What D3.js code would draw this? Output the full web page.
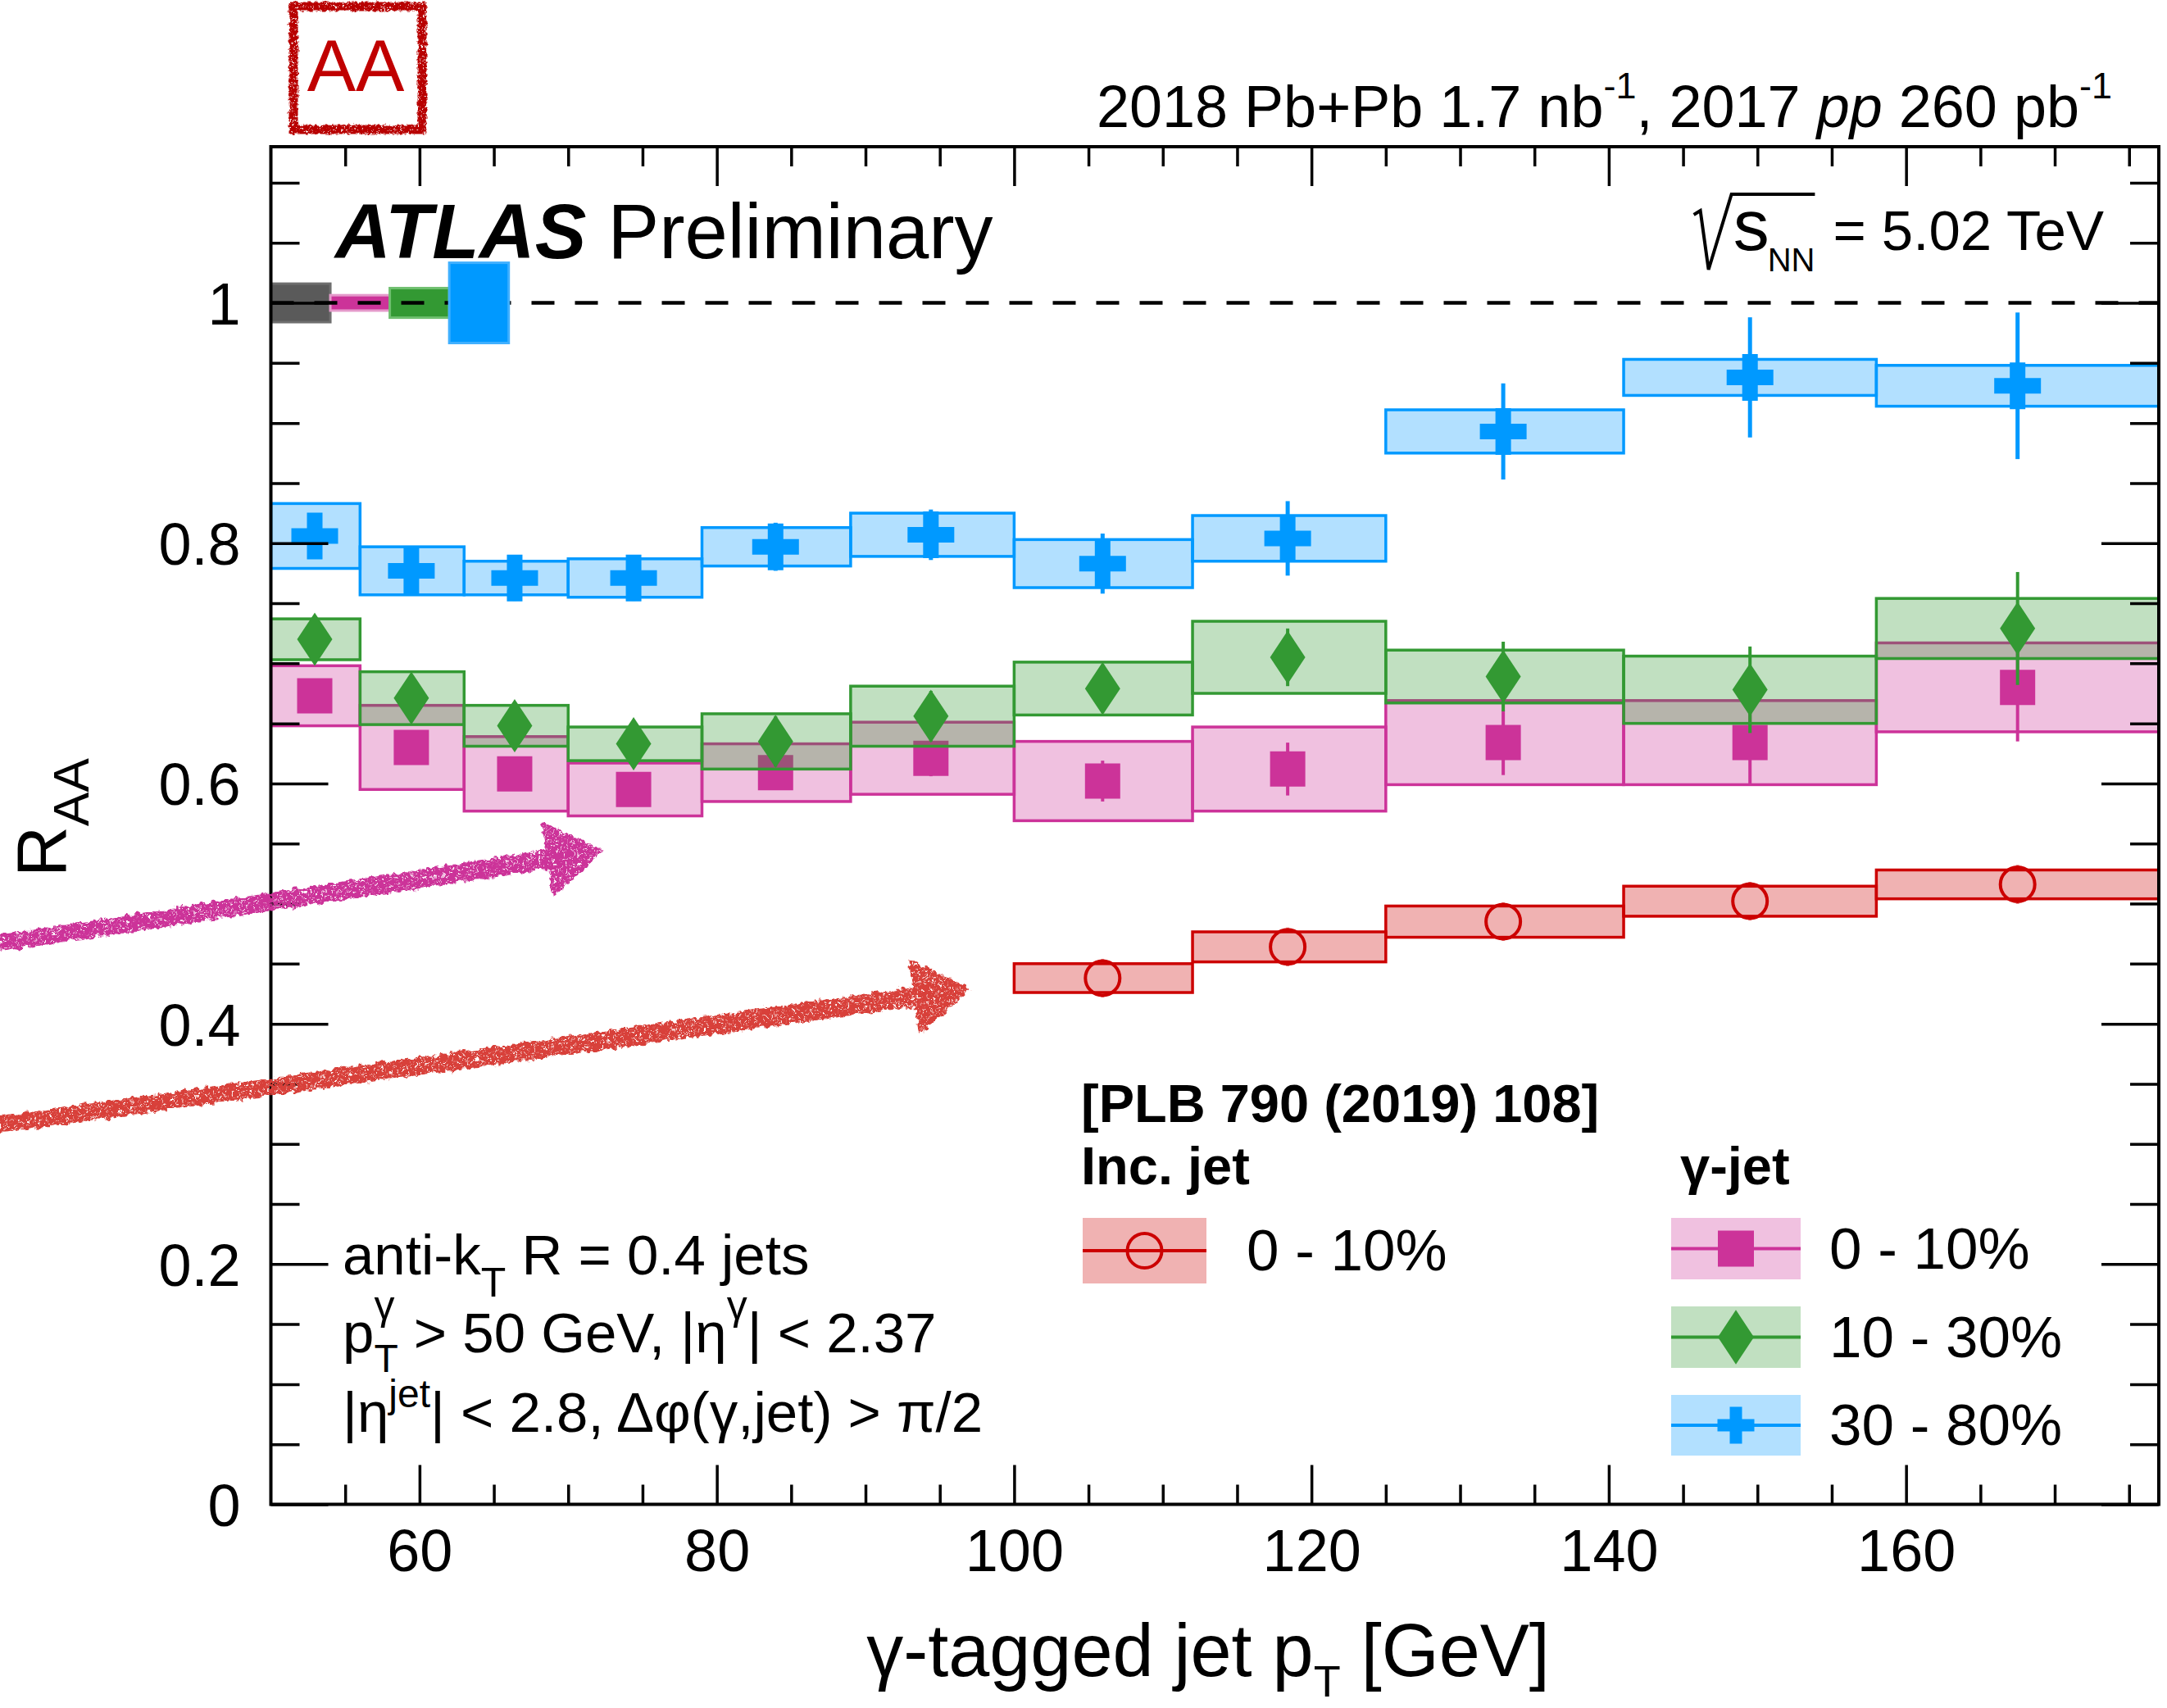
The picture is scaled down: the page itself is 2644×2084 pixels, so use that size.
<!DOCTYPE html>
<html>
<head>
<meta charset="utf-8">
<title>Photon-tagged jet R_AA</title>
<script src="https://cdn.jsdelivr.net/npm/d3@7/dist/d3.min.js"></script>
<style>
  html, body { margin: 0; padding: 0; background: #ffffff; }
  svg { display: block; }
  svg text { font-family: "Liberation Sans", Arial, Helvetica, sans-serif; white-space: pre; }
</style>
</head>
<body>
<svg id="chart" width="2644" height="2084" viewBox="0 0 2644 2084"></svg>
<script>
// ---------------- data ----------------
// photon-tagged jet pT bins [GeV] and bin centres
const ptBinEdges = [50, 56, 63, 70, 79, 89, 100, 112, 125, 141, 158, 177];
const ptCenters  = [52.95, 59.45, 66.4, 74.4, 83.95, 94.4, 105.95, 118.4, 132.9, 149.5, 167.5];

// gamma-jet, centrality 0-10 %
const raaCent0010  = [0.673, 0.630, 0.608, 0.595, 0.609, 0.621, 0.602, 0.612, 0.634, 0.634, 0.680];
const statCent0010 = [0.013, 0.014, 0.014, 0.014, 0.014, 0.015, 0.017, 0.022, 0.027, 0.034, 0.045];
const sysCent0010  = [0.025, 0.035, 0.031, 0.022, 0.024, 0.030, 0.033, 0.035, 0.035, 0.035, 0.037];

// gamma-jet, centrality 10-30 %
const raaCent1030  = [0.720, 0.671, 0.648, 0.633, 0.635, 0.656, 0.679, 0.705, 0.689, 0.678, 0.729];
const statCent1030 = [0.018, 0.019, 0.020, 0.020, 0.021, 0.021, 0.020, 0.024, 0.029, 0.036, 0.047];
const sysCent1030  = [0.017, 0.022, 0.017, 0.014, 0.023, 0.025, 0.022, 0.030, 0.022, 0.028, 0.025];

// gamma-jet, centrality 30-80 %
const raaCent3080  = [0.806, 0.777, 0.771, 0.771, 0.797, 0.807, 0.783, 0.804, 0.893, 0.938, 0.931];
const statCent3080 = [0.017, 0.018, 0.019, 0.019, 0.020, 0.021, 0.025, 0.031, 0.040, 0.050, 0.061];
const sysCent3080  = [0.027, 0.020, 0.014, 0.016, 0.016, 0.018, 0.020, 0.019, 0.018, 0.015, 0.017];

// inclusive jets, 0-10 % [PLB 790 (2019) 108]
const incBinEdges  = [100, 112, 125, 141, 158, 177];
const incCenters   = [105.95, 118.4, 132.9, 149.5, 167.5];
const raaInc0010   = [0.438, 0.464, 0.485, 0.502, 0.516];
const statInc0010  = [0.016, 0.016, 0.016, 0.016, 0.016];
const sysInc0010   = [0.012, 0.0125, 0.013, 0.0125, 0.012];

// global normalisation uncertainties, drawn as boxes around R_AA = 1
const normLow  = [50, 54, 58, 62];
const normHigh = [54, 58, 62, 66];
const normUnc  = [0.016, 0.0064, 0.0123, 0.0334];

// axis ticks
const xMajorTicks = [60, 80, 100, 120, 140, 160];
const xMinorTicks = [55, 65, 70, 75, 85, 90, 95, 105, 110, 115, 125, 130, 135, 145, 150, 155, 165, 170, 175];
const yMajorTicks = [0, 0.2, 0.4, 0.6, 0.8, 1.0];
const yMinorTicks = [0.05, 0.1, 0.15, 0.25, 0.3, 0.35, 0.45, 0.5, 0.55, 0.65, 0.7, 0.75, 0.85, 0.9, 0.95, 1.05, 1.1];

// hand-drawn annotation arrows, in (pT, R_AA) coordinates
const arrowTails = [[31.8, 0.467], [31.8, 0.316]];
const arrowTips  = [[72.4, 0.544], [97.06, 0.429]];

// ---------------- styles ----------------
const C = {
  pink: "#cc3399", green: "#339933", blue: "#0099ff", red: "#cc0000",
  gray: "#5a5a5a", arrowPink: "#cc3399", arrowRed: "#d8403a", stamp: "#b80000"
};
const FILL_ALPHA = 0.3;

const F = { left: 330.5, right: 2634, top: 179, bottom: 1835.5 };
const x = d3.scaleLinear().domain([50, 177]).range([F.left, F.right]);
const y = d3.scaleLinear().domain([0, 1.13]).range([F.bottom, F.top]);

const svg = d3.select("#chart");
svg.append("rect").attr("width", 2644).attr("height", 2084).attr("fill", "#fff");

const defs = svg.append("defs");
defs.append("clipPath").attr("id", "frameClip")
  .append("rect").attr("x", F.left).attr("y", F.top)
  .attr("width", F.right - F.left).attr("height", F.bottom - F.top);

// crayon-like texture for the annotation strokes
defs.html(defs.html() + `
  <filter id="crayon" x="-10%" y="-60%" width="120%" height="220%" color-interpolation-filters="sRGB">
    <feTurbulence type="fractalNoise" baseFrequency="0.4" numOctaves="2" seed="4" result="grain"/>
    <feColorMatrix in="grain" type="matrix" values="0 0 0 0 0  0 0 0 0 0  0 0 0 0 0  6 0 0 0 -1.5" result="grainMask"/>
    <feComposite in="SourceGraphic" in2="grainMask" operator="in" result="speckled"/>
    <feTurbulence type="fractalNoise" baseFrequency="0.14" numOctaves="2" seed="9" result="warp"/>
    <feDisplacementMap in="speckled" in2="warp" scale="10" xChannelSelector="R" yChannelSelector="G"/>
  </filter>
  <filter id="grunge" x="-10%" y="-10%" width="120%" height="120%" color-interpolation-filters="sRGB">
    <feTurbulence type="fractalNoise" baseFrequency="0.5" numOctaves="2" seed="2" result="grain"/>
    <feColorMatrix in="grain" type="matrix" values="0 0 0 0 0  0 0 0 0 0  0 0 0 0 0  6 0 0 0 -1.5" result="grainMask"/>
    <feComposite in="SourceGraphic" in2="grainMask" operator="in" result="speckled"/>
    <feTurbulence type="fractalNoise" baseFrequency="0.25" numOctaves="2" seed="5" result="warp"/>
    <feDisplacementMap in="speckled" in2="warp" scale="6" xChannelSelector="R" yChannelSelector="G"/>
  </filter>`);

// ---------------- helpers ----------------
function markerPath(type, s) {
  if (type === "square") {
    const h = s / 2;
    return `M${-h},${-h}H${h}V${h}H${-h}Z`;
  }
  if (type === "diamond") {
    const w = s / 2, h = s * 0.755;
    return `M0,${-h}L${w},0L0,${h}L${-w},0Z`;
  }
  if (type === "cross") {
    const a = s / 2, t = s / 6;
    return `M${-t},${-a}H${t}V${-t}H${a}V${t}H${t}V${a}H${-t}V${t}H${-a}V${-t}H${-t}Z`;
  }
  if (type === "circle") {
    const r = s / 2;
    return `M${-r},0A${r},${r} 0 1,0 ${r},0A${r},${r} 0 1,0 ${-r},0Z`;
  }
}

function drawSys(g, edges, vals, sys, color) {
  g.append("g").selectAll("rect").data(vals).join("rect")
    .attr("x", (d, i) => x(edges[i]))
    .attr("width", (d, i) => x(edges[i + 1]) - x(edges[i]))
    .attr("y", (d, i) => y(d + sys[i]))
    .attr("height", (d, i) => y(d - sys[i]) - y(d + sys[i]))
    .attr("fill", color).attr("fill-opacity", FILL_ALPHA)
    .attr("stroke", color).attr("stroke-width", 3.5);
}

function drawStat(g, centers, vals, stat, color, gap, width) {
  const segs = [];
  vals.forEach((v, i) => {
    const cx = x(centers[i]), cy = y(v);
    const top = y(v + stat[i]), bot = y(v - stat[i]);
    if (cy - top > gap) segs.push([cx, top, cx, cy - gap]);
    if (bot - cy > gap) segs.push([cx, cy + gap, cx, bot]);
  });
  g.append("g").selectAll("line").data(segs).join("line")
    .attr("x1", d => d[0]).attr("y1", d => d[1]).attr("x2", d => d[2]).attr("y2", d => d[3])
    .attr("stroke", color).attr("stroke-width", width);
}

function drawMarkers(g, centers, vals, type, size, color, open) {
  g.append("g").selectAll("path").data(vals).join("path")
    .attr("transform", (d, i) => `translate(${x(centers[i])},${y(d)})`)
    .attr("d", markerPath(type, size))
    .attr("fill", open ? "none" : color)
    .attr("stroke", open ? color : "none")
    .attr("stroke-width", open ? 4 : 0);
}

// text built from pieces (sub/superscripts), returns its width
function rich(parent, x0, y0, parts, opts) {
  const g = parent.append("g");
  let cx = x0, pend = 0;
  parts.forEach(p => {
    const t = g.append("text")
      .attr("x", cx).attr("y", y0 + (p.dy || 0))
      .attr("font-size", p.size || opts.size)
      .attr("font-weight", (p.bold ?? opts.bold) ? "bold" : "normal")
      .attr("font-style", (p.italic ?? opts.italic) ? "italic" : "normal")
      .attr("fill", opts.fill || "#000")
      .text(p.t);
    const w = t.node().getComputedTextLength();
    if (p.stack) { pend = Math.max(pend, w); }
    else { cx += Math.max(w, pend); pend = 0; }
  });
  const width = cx - x0;
  if (opts.anchor === "end") g.attr("transform", `translate(${-width},0)`);
  if (opts.anchor === "middle") g.attr("transform", `translate(${-width / 2},0)`);
  return width;
}

// ---------------- plot content ----------------
const plot = svg.append("g").attr("clip-path", "url(#frameClip)");

// inclusive jets 0-10 %
drawSys(plot, incBinEdges, raaInc0010, sysInc0010, C.red);
drawStat(plot, incCenters, raaInc0010, statInc0010, C.red, 23, 4);
drawMarkers(plot, incCenters, raaInc0010, "circle", 42, C.red, true);

// gamma-jet 0-10 %
drawSys(plot, ptBinEdges, raaCent0010, sysCent0010, C.pink);
drawStat(plot, ptCenters, raaCent0010, statCent0010, C.pink, 0, 4);
drawMarkers(plot, ptCenters, raaCent0010, "square", 43, C.pink, false);

// gamma-jet 10-30 %
drawSys(plot, ptBinEdges, raaCent1030, sysCent1030, C.green);
drawStat(plot, ptCenters, raaCent1030, statCent1030, C.green, 0, 4);
drawMarkers(plot, ptCenters, raaCent1030, "diamond", 43, C.green, false);

// gamma-jet 30-80 %
drawSys(plot, ptBinEdges, raaCent3080, sysCent3080, C.blue);
drawStat(plot, ptCenters, raaCent3080, statCent3080, C.blue, 0, 5);
drawMarkers(plot, ptCenters, raaCent3080, "cross", 57, C.blue, false);

// normalisation boxes and unity line
const normColors = [C.gray, C.pink, C.green, C.blue];
const normStroke = ["#6e6e6e", "#e59acb", "#6fbf6f", "#40b0ff"];
function drawNorm(i) {
  plot.append("rect")
    .attr("x", x(normLow[i])).attr("width", x(normHigh[i]) - x(normLow[i]))
    .attr("y", y(1 + normUnc[i])).attr("height", y(1 - normUnc[i]) - y(1 + normUnc[i]))
    .attr("fill", normColors[i]).attr("stroke", normStroke[i]).attr("stroke-width", 3);
}
[0, 1, 2].forEach(drawNorm);
plot.append("line")
  .attr("x1", x(50)).attr("x2", x(177)).attr("y1", y(1)).attr("y2", y(1))
  .attr("stroke", "#000").attr("stroke-width", 4.5).attr("stroke-dasharray", "28,25");
drawNorm(3);

// ---------------- axes ----------------
function styleAxis(g, labelSize) {
  g.attr("font-family", null).attr("font-size", null);
  g.select(".domain").remove();
  g.selectAll("line").attr("stroke", "#000").attr("stroke-width", 3.5);
  g.selectAll("text").attr("font-size", labelSize || 72).attr("fill", "#000");
}
const blank = () => "";

svg.append("g").attr("transform", `translate(0,${F.bottom})`)
  .call(d3.axisBottom(x).tickValues(xMajorTicks).tickSize(-48).tickSizeOuter(0).tickPadding(30).tickFormat(d3.format("d")))
  .call(g => styleAxis(g));
svg.append("g").attr("transform", `translate(0,${F.bottom})`)
  .call(d3.axisBottom(x).tickValues(xMinorTicks).tickSize(-24).tickSizeOuter(0).tickFormat(blank))
  .call(g => styleAxis(g));
svg.append("g").attr("transform", `translate(0,${F.top})`)
  .call(d3.axisTop(x).tickValues(xMajorTicks).tickSize(-48).tickSizeOuter(0).tickFormat(blank))
  .call(g => styleAxis(g));
svg.append("g").attr("transform", `translate(0,${F.top})`)
  .call(d3.axisTop(x).tickValues(xMinorTicks).tickSize(-24).tickSizeOuter(0).tickFormat(blank))
  .call(g => styleAxis(g));

svg.append("g").attr("transform", `translate(${F.left},0)`)
  .call(d3.axisLeft(y).tickValues(yMajorTicks).tickSize(-70).tickSizeOuter(0).tickPadding(37).tickFormat(d3.format("~g")))
  .call(g => styleAxis(g))
  .call(g => g.selectAll("text").attr("dy", "0.36em"));
svg.append("g").attr("transform", `translate(${F.left},0)`)
  .call(d3.axisLeft(y).tickValues(yMinorTicks).tickSize(-35).tickSizeOuter(0).tickFormat(blank))
  .call(g => styleAxis(g));
svg.append("g").attr("transform", `translate(${F.right},0)`)
  .call(d3.axisRight(y).tickValues(yMajorTicks).tickSize(-70).tickSizeOuter(0).tickFormat(blank))
  .call(g => styleAxis(g));
svg.append("g").attr("transform", `translate(${F.right},0)`)
  .call(d3.axisRight(y).tickValues(yMinorTicks).tickSize(-35).tickSizeOuter(0).tickFormat(blank))
  .call(g => styleAxis(g));

// frame
svg.append("rect")
  .attr("x", F.left).attr("y", F.top)
  .attr("width", F.right - F.left).attr("height", F.bottom - F.top)
  .attr("fill", "none").attr("stroke", "#000").attr("stroke-width", 4);

// axis titles
rich(svg, 1474, 2045, [
  { t: "γ-tagged jet p" }, { t: "T", size: 54, dy: 25 }, { t: " [GeV]" }
], { size: 90, anchor: "middle" });

const yTitle = svg.append("g").attr("transform", "translate(80,1070) rotate(-90)");
rich(yTitle, 0, 0, [{ t: "R" }, { t: "AA", size: 62, dy: 28 }], { size: 86 });

// ---------------- labels ----------------
rich(svg, 2577, 155, [
  { t: "2018 Pb+Pb 1.7 nb" }, { t: "-1", size: 45, dy: -35 },
  { t: ", 2017 " }, { t: "pp", italic: true }, { t: " 260 pb" }, { t: "-1", size: 45, dy: -35 }
], { size: 72, anchor: "end" });

// sqrt(s_NN) = 5.02 TeV
const eqW = rich(svg, 2567, 305, [{ t: "= 5.02 TeV" }], { size: 69, anchor: "end" });
const eqStart = 2567 - eqW;
const nnProbe = svg.append("text").attr("font-size", 40).text("NN");
const nnW = nnProbe.node().getComputedTextLength(); nnProbe.remove();
const nnX = eqStart - 22 - nnW;
svg.append("text").attr("x", nnX).attr("y", 331).attr("font-size", 40).text("NN");
const sProbe = svg.append("text").attr("font-size", 88).text("s");
const sW = sProbe.node().getComputedTextLength(); sProbe.remove();
const sX = nnX - sW + 2;
svg.append("text").attr("x", sX).attr("y", 305).attr("font-size", 88).text("s");
svg.append("path")
  .attr("d", `M${sX - 48},262 L${sX - 40},257 L${sX - 30},329 L${sX - 2},237 L${nnX + nnW},237`)
  .attr("fill", "none").attr("stroke", "#000").attr("stroke-width", 4).attr("stroke-linejoin", "miter");

// ATLAS Preliminary
rich(svg, 409, 315, [
  { t: "ATLAS", bold: true, italic: true }, { t: " Preliminary" }
], { size: 94 });

// selection block
const sel = svg.append("g");
rich(sel, 418, 1555, [{ t: "anti-k" }, { t: "T", size: 50, dy: 27 }, { t: " R = 0.4 jets" }], { size: 69 });
rich(sel, 418, 1650, [
  { t: "p" }, { t: "γ", size: 50, dy: -40, stack: true }, { t: "T", size: 48, dy: 24 },
  { t: " > 50 GeV, |η" }, { t: "γ", size: 50, dy: -40 }, { t: "| < 2.37" }
], { size: 69 });
rich(sel, 418, 1747, [
  { t: "|η" }, { t: "jet", size: 48, dy: -30 }, { t: "| < 2.8, Δφ(γ,jet) > π/2" }
], { size: 69 });

// ---------------- legend ----------------
const leg = svg.append("g");
rich(leg, 1319, 1369, [{ t: "[PLB 790 (2019) 108]" }], { size: 65, bold: true });
rich(leg, 1319, 1445, [{ t: "Inc. jet" }], { size: 65, bold: true });
rich(leg, 2050, 1445, [{ t: "γ-jet" }], { size: 65, bold: true });

const legendRows = [
  { x0: 1321, x1: 1472, y0: 1486, y1: 1566, color: C.red, type: "circle", size: 42, open: true, label: "0 - 10%", lx: 1521 },
  { x0: 2039, x1: 2197, y0: 1486, y1: 1561, color: C.pink, type: "square", size: 44, open: false, label: "0 - 10%", lx: 2232 },
  { x0: 2039, x1: 2197, y0: 1594, y1: 1669, color: C.green, type: "diamond", size: 44, open: false, label: "10 - 30%", lx: 2232 },
  { x0: 2039, x1: 2197, y0: 1702, y1: 1776, color: C.blue, type: "cross", size: 45, open: false, label: "30 - 80%", lx: 2232 }
];
legendRows.forEach(r => {
  const cy = (r.y0 + r.y1) / 2, cx = (r.x0 + r.x1) / 2;
  leg.append("rect").attr("x", r.x0).attr("y", r.y0).attr("width", r.x1 - r.x0).attr("height", r.y1 - r.y0)
    .attr("fill", r.color).attr("fill-opacity", FILL_ALPHA);
  leg.append("line").attr("x1", r.x0).attr("x2", r.x1).attr("y1", cy).attr("y2", cy)
    .attr("stroke", r.color).attr("stroke-width", 4);
  leg.append("path").attr("transform", `translate(${cx},${cy})`).attr("d", markerPath(r.type, r.size))
    .attr("fill", r.open ? "none" : r.color).attr("stroke", r.open ? r.color : "none").attr("stroke-width", r.open ? 4 : 0);
  rich(leg, r.lx, cy + 24, [{ t: r.label }], { size: 71 });
});

// ---------------- annotations ----------------
function arrow(tail, tip, color) {
  const p0 = [x(tail[0]), y(tail[1])], p1 = [x(tip[0]), y(tip[1])];
  const dx = p1[0] - p0[0], dy = p1[1] - p0[1], L = Math.hypot(dx, dy);
  const u = [dx / L, dy / L], n = [-u[1], u[0]];
  const headLen = 70, headHalf = 47;
  const base = [p1[0] - u[0] * headLen, p1[1] - u[1] * headLen];
  const sEnd = [base[0] + u[0] * 12, base[1] + u[1] * 12];
  const pt = (p, k) => `${p[0] + n[0] * k},${p[1] + n[1] * k}`;
  const d = `M${pt(p0, -10)}L${pt(sEnd, -12)}L${pt(sEnd, 12)}L${pt(p0, 10)}Z` +
            `M${pt(base, -headHalf)}L${p1[0]},${p1[1]}L${pt(base, headHalf)}Z`;
  svg.append("path").attr("d", d).attr("fill", color).attr("filter", "url(#crayon)");
}
arrow(arrowTails[0], arrowTips[0], C.arrowPink);
arrow(arrowTails[1], arrowTips[1], C.arrowRed);

// AA stamp
svg.append("rect").attr("x", 358).attr("y", 8).attr("width", 157).attr("height", 150)
  .attr("fill", "none").attr("stroke", C.stamp).attr("stroke-width", 11).attr("filter", "url(#grunge)");
svg.append("text").attr("x", 434).attr("y", 111).attr("text-anchor", "middle")
  .attr("font-size", 89).attr("fill", "#c00000").text("AA");
</script>
</body>
</html>
